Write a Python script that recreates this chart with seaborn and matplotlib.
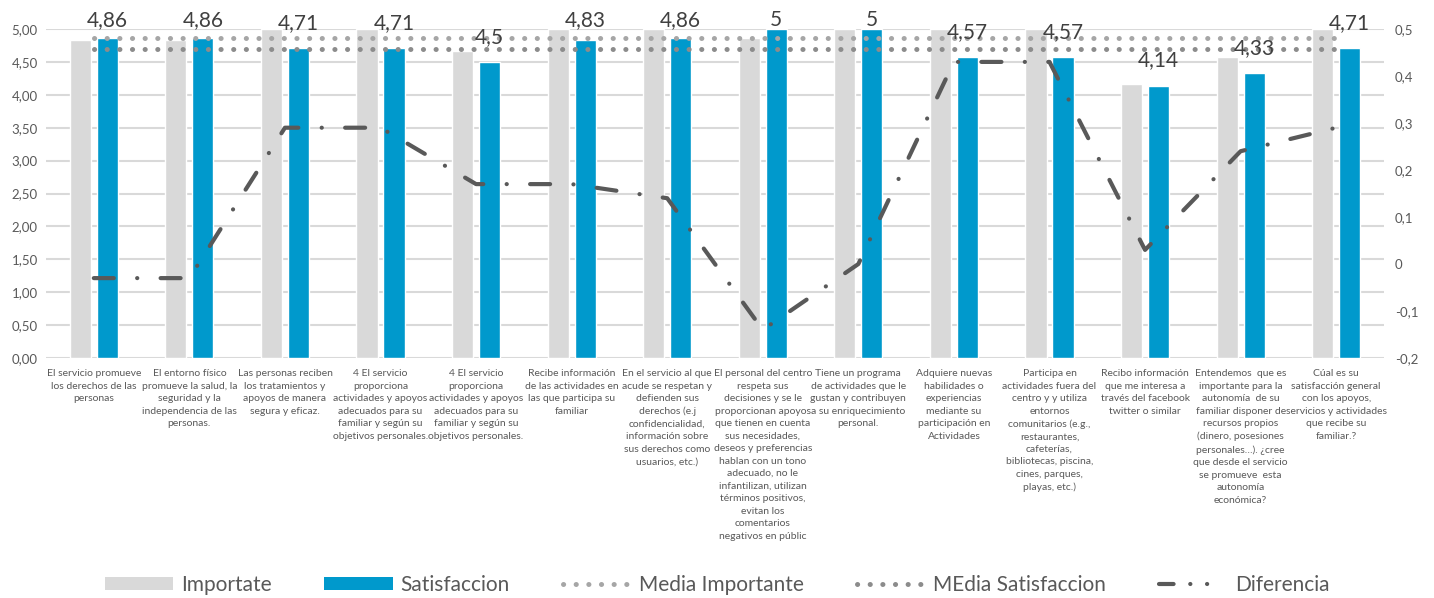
import numpy as np
import pandas as pd
import matplotlib
matplotlib.use("Agg")
import matplotlib.pyplot as plt
import matplotlib.ticker as mticker
from matplotlib.patches import Patch
from matplotlib.lines import Line2D
import seaborn as sns

# ---- data ----
preguntas = [
    "El servicio promueve\nlos derechos de las\npersonas",
    "El entorno físico\npromueve la salud, la\nseguridad y la\nindependencia de las\npersonas.",
    "Las personas reciben\nlos tratamientos y\napoyos de manera\nsegura y eficaz.",
    "4 El servicio\nproporciona\nactividades y apoyos\nadecuados para su\nfamiliar y según su\nobjetivos personales.",
    "4 El servicio\nproporciona\nactividades y apoyos\nadecuados para su\nfamiliar y según su\nobjetivos personales.",
    "Recibe información\nde las actividades en\nlas que participa su\nfamiliar",
    "En el servicio al que\nacude se respetan y\ndefienden sus\nderechos (e.j\nconfidencialidad,\ninformación sobre\nsus derechos como\nusuarios, etc.)",
    "El personal del centro\nrespeta sus\ndecisiones y se le\nproporcionan apoyos\nque tienen en cuenta\nsus necesidades,\ndeseos y preferencias\nhablan con un tono\nadecuado, no le\ninfantilizan, utilizan\ntérminos positivos,\nevitan los\ncomentarios\nnegativos en públic",
    "Tiene un programa\nde actividades que le\ngustan y contribuyen\na su enriquecimiento\npersonal.",
    "Adquiere nuevas\nhabilidades o\nexperiencias\nmediante su\nparticipación en\nActividades",
    "Participa en\nactividades fuera del\ncentro y y utiliza\nentornos\ncomunitarios (e.g.,\nrestaurantes,\ncafeterías,\nbibliotecas, piscina,\ncines, parques,\nplayas, etc.)",
    "Recibo información\nque me interesa a\ntravés del facebook\ntwitter o similar",
    "Entendemos  que es\nimportante para la\nautonomía  de su\nfamiliar disponer de\nrecursos propios\n(dinero, posesiones\npersonales…). ¿cree\nque desde el servicio\nse promueve  esta\nautonomía\neconómica?",
    "Cúal es su\nsatisfacción general\ncon los apoyos,\nservicios y actividades\nque recibe su\nfamiliar.?",
]
importante = [4.83, 4.83, 5.0, 5.0, 4.67, 5.0, 5.0, 4.86, 5.0, 5.0, 5.0, 4.17, 4.57, 5.0]
satisfaccion = [4.86, 4.86, 4.71, 4.71, 4.5, 4.83, 4.86, 5.0, 5.0, 4.57, 4.57, 4.14, 4.33, 4.71]
diferencia = [-0.03, -0.03, 0.29, 0.29, 0.17, 0.17, 0.14, -0.14, 0.0, 0.43, 0.43, 0.03, 0.24, 0.29]
media_importante = [4.86] * 14
media_satisfaccion = [4.69] * 14

GRIS = "#D9D9D9"
AZUL = "#0099CC"
TXT = "#595959"

sns.set_style("white")
plt.rcParams['font.family'] = ['Lato', 'DejaVu Sans']

n = len(preguntas)
pos = np.arange(n)
df = pd.DataFrame({
    "pregunta": list(range(n)) * 2,
    "valor": importante + satisfaccion,
    "serie": ["Importate"] * n + ["Satisfaccion"] * n,
})

fig = plt.figure(figsize=(14.34, 5.98), dpi=100)
ax = fig.add_axes([0.0321, 0.4013, 0.933, 0.5502])

sns.barplot(data=df, x="pregunta", y="valor", hue="serie", ax=ax,
            palette=[GRIS, AZUL], width=0.565, gap=0.22, legend=False,
            saturation=1, zorder=2)

# medias (linea de puntos)
dots = (0, (0.03, 2.5))
sns.lineplot(x=pos, y=media_importante, ax=ax, color="#A6A6A6", linewidth=3.6,
             linestyle=dots, dash_capstyle="round", zorder=3)
sns.lineplot(x=pos, y=media_satisfaccion, ax=ax, color="#8C8C8C", linewidth=3.6,
             linestyle=dots, dash_capstyle="round", zorder=3)

# etiquetas de satisfaccion
for i, v in enumerate(satisfaccion):
    ax.text(i + 0.141, min(v + 0.38, 5.13), f"{v:g}".replace(".", ","),
            ha="center", va="center", fontsize=15, color="#404040", zorder=6)

ax.set_xlim(-0.5, n - 0.5)
ax.set_ylim(0, 5)
ax.set_yticks(np.arange(0, 5.01, 0.5))
ax.yaxis.set_major_formatter(mticker.FuncFormatter(lambda v, p: f"{v:.2f}".replace(".", ",")))
ax.set_xticks(pos)
ax.set_xticklabels(preguntas, fontsize=7.5, color=TXT, linespacing=1.5, va="top")
ax.tick_params(axis="x", length=0, pad=8)
ax.tick_params(axis="y", length=0, labelsize=9.5, labelcolor=TXT, pad=6)
ax.set_xlabel("")
ax.set_ylabel("")
ax.yaxis.grid(True, color=GRIS, linewidth=1.5, zorder=0)
ax.set_axisbelow(True)
for s in ax.spines.values():
    s.set_visible(False)

# eje secundario: diferencia
ax2 = ax.twinx()
dashdot = (0, (4.8, 5.6, 0.03, 5.6))
sns.lineplot(x=pos, y=diferencia, ax=ax2, color="#595959", linewidth=3,
             linestyle=dashdot, dash_capstyle="round", zorder=5)
ax2.set_ylim(-0.2, 0.5)
ax2.set_yticks(np.arange(-0.2, 0.51, 0.1))
ax2.yaxis.set_major_formatter(mticker.FuncFormatter(
    lambda v, p: "0" if abs(v) < 1e-9 else f"{v:.1f}".replace(".", ",")))
ax2.tick_params(axis="y", length=0, labelsize=9.5, labelcolor=TXT, pad=8)
ax2.set_ylabel("")
for s in ax2.spines.values():
    s.set_visible(False)
ax.set_xlim(-0.5, n - 0.5)

handles = [
    Patch(facecolor=GRIS, edgecolor="none"),
    Patch(facecolor=AZUL, edgecolor="none"),
    Line2D([], [], color="#A6A6A6", linewidth=3.6, linestyle=(0, (0.03, 2.5)), dash_capstyle="round"),
    Line2D([], [], color="#8C8C8C", linewidth=3.6, linestyle=(0, (0.03, 2.5)), dash_capstyle="round"),
    Line2D([], [], color="#595959", linewidth=3, linestyle=(0, (3.5, 4.0, 0.03, 4.0, 0.03, 20)), dash_capstyle="round"),
]
labels = ["Importate", "Satisfaccion", "Media Importante", "MEdia Satisfaccion", "Diferencia"]
fig.legend(handles, labels, loc="center", bbox_to_anchor=(0.5, 0.022), ncol=5,
           frameon=False, fontsize=15, labelcolor=TXT, handlelength=3.3,
           handleheight=0.6, handletextpad=0.35, columnspacing=2.55)

fig.savefig("out.png", dpi=100)
